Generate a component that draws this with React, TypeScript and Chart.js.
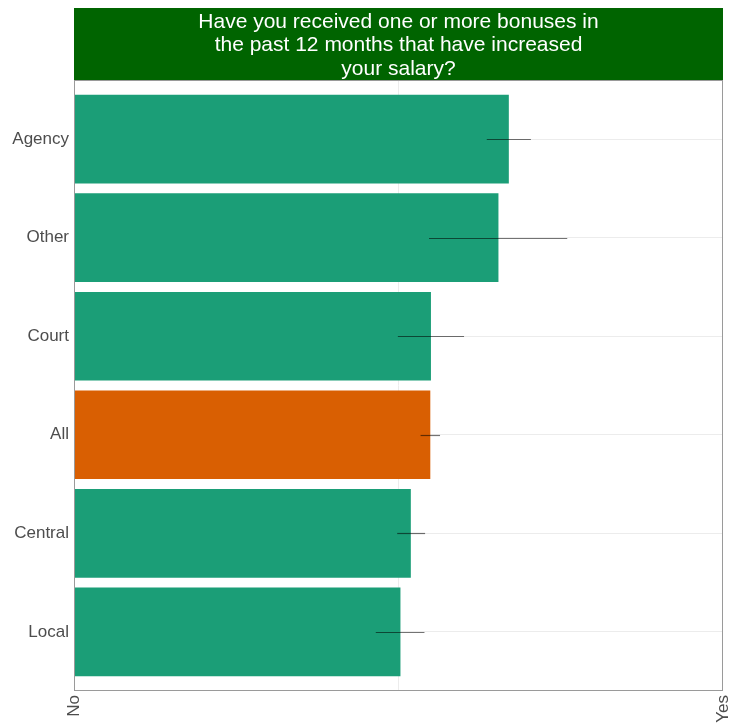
import React, { useEffect, useRef } from "react";
import { Chart, registerables } from "chart.js";

Chart.register(...registerables);

const categories = ["Agency", "Other", "Court", "All", "Central", "Local"];
const values = [0.670, 0.654, 0.550, 0.549, 0.519, 0.503];
const lowerCI = [0.636, 0.547, 0.499, 0.534, 0.498, 0.465];
const upperCI = [0.704, 0.760, 0.601, 0.564, 0.541, 0.540];
const barColors = ["#1b9e77", "#1b9e77", "#1b9e77", "#d95f02", "#1b9e77", "#1b9e77"];
const xTickLabels: Record<string, string> = { "0": "No", "1": "Yes" };
const titleLines = [
  "Have you received one or more bonuses in",
  "the past 12 months that have increased",
  "your salary?",
];

const FONT = "'Liberation Sans', Arial, sans-serif";

const framePlugin = {
  id: "frame",
  beforeDraw(chart: any) {
    const { ctx, chartArea } = chart;
    ctx.save();
    ctx.fillStyle = "#006400";
    ctx.fillRect(chartArea.left, 8, chartArea.right - chartArea.left, chartArea.top - 8);
    ctx.fillStyle = "#ffffff";
    ctx.font = `21px ${FONT}`;
    ctx.textAlign = "center";
    ctx.textBaseline = "middle";
    const cx = (chartArea.left + chartArea.right) / 2;
    titleLines.forEach((line, i) => {
      ctx.fillText(line, cx, 22 + i * 23.5);
    });
    ctx.restore();
  },
  afterDatasetsDraw(chart: any) {
    const { ctx, chartArea, scales } = chart;
    ctx.save();
    ctx.strokeStyle = "rgba(0,0,0,0.55)";
    ctx.lineWidth = 1.2;
    categories.forEach((_, i) => {
      const y = Math.round(scales.y.getPixelForValue(i)) + 0.5;
      ctx.beginPath();
      ctx.moveTo(scales.x.getPixelForValue(lowerCI[i]), y);
      ctx.lineTo(scales.x.getPixelForValue(upperCI[i]), y);
      ctx.stroke();
    });
    ctx.strokeStyle = "#9a9a9a";
    ctx.lineWidth = 1;
    ctx.strokeRect(
      Math.round(chartArea.left) + 0.5,
      Math.round(chartArea.top) + 0.5,
      Math.round(chartArea.right - chartArea.left) - 1,
      Math.round(chartArea.bottom - chartArea.top) - 1
    );
    ctx.restore();
  },
};

export default function App() {
  const ref = useRef<HTMLCanvasElement>(null);
  useEffect(() => {
    if (!ref.current) return;
    const chart = new Chart(ref.current, {
      type: "bar",
      data: {
        datasets: [
          {
            data: categories.map((_, i) => ({ x: values[i], y: i })),
            backgroundColor: barColors,
            borderWidth: 0,
            barPercentage: 0.9,
            categoryPercentage: 1,
          },
        ],
      },
      options: {
        indexAxis: "y",
        animation: false,
        responsive: false,
        maintainAspectRatio: false,
        layout: { padding: { top: 80, right: 10, left: 0, bottom: 0 } },
        plugins: { legend: { display: false }, tooltip: { enabled: false }, title: { display: false } },
        scales: {
          x: {
            type: "linear",
            min: 0,
            max: 1,
            afterBuildTicks: (scale: any) => {
              scale.ticks = [{ value: 0 }, { value: 0.5 }, { value: 1 }];
            },
            afterFit: (scale: any) => {
              scale.height = 35;
              scale.paddingLeft = 0;
              scale.paddingRight = 0;
            },
            border: { display: false },
            grid: {
              drawTicks: false,
              color: (c: any) => (c.tick && c.tick.value === 0.5 ? "#ececec" : "rgba(0,0,0,0)"),
              lineWidth: 1,
            },
            ticks: {
              minRotation: 90,
              maxRotation: 90,
              padding: 4,
              color: "#4d4d4d",
              font: { family: FONT, size: 17 },
              callback: (v: any) => xTickLabels[String(v)] ?? "",
            },
          },
          y: {
            type: "linear",
            offset: false,
            min: -0.6,
            max: categories.length - 1 + 0.6,
            reverse: true,
            afterBuildTicks: (scale: any) => {
              scale.ticks = categories.map((_, i) => ({ value: i }));
            },
            afterFit: (scale: any) => {
              scale.width = 74;
              scale.paddingTop = 0;
              scale.paddingBottom = 0;
            },
            border: { display: false },
            grid: { drawTicks: false, offset: false, color: "#ececec", lineWidth: 1 },
            ticks: {
              padding: 5,
              color: "#4d4d4d",
              font: { family: FONT, size: 17 },
              callback: (v: any) => categories[v] ?? "",
            },
          },
        },
      },
      plugins: [framePlugin],
    } as any);
    return () => chart.destroy();
  }, []);
  return (
    <div style={{ position: "fixed", left: 0, top: 0, width: 733, height: 726, background: "#fff" }}>
      <canvas ref={ref} width={733} height={726} style={{ width: 733, height: 726, display: "block" }} />
    </div>
  );
}
